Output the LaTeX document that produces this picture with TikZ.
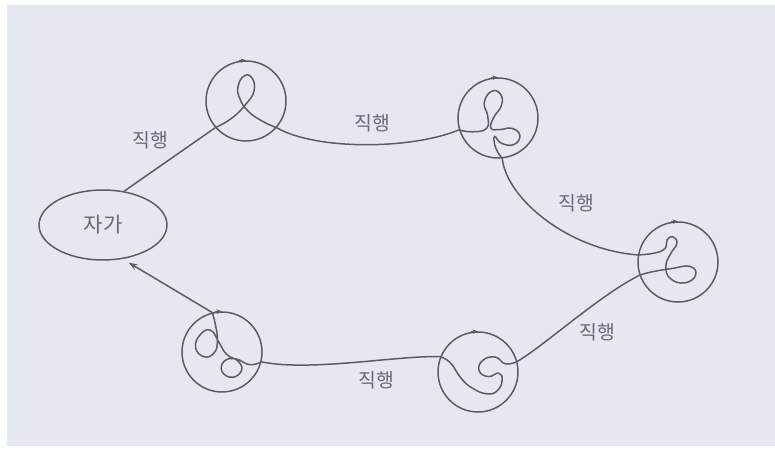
\documentclass[tikz,border=0pt]{standalone}
\usepackage{fontspec}
\newfontfamily\kr{Noto Sans CJK KR}
\usepackage{tikz}
\usetikzlibrary{calc, arrows.meta, shapes.geometric}
\definecolor{paper}{RGB}{229, 231, 241}
\definecolor{ink}{RGB}{92, 92, 104}
\definecolor{txt}{RGB}{105, 105, 118}

\begin{document}
\begin{tikzpicture}[x=0.02cm, y=-0.02cm, >=Stealth,
  spot/.style={circle, draw=ink, line width=0.85pt, minimum size=1.6cm, inner sep=0pt},
  homenode/.style={ellipse, draw=ink, line width=0.85pt, minimum width=2.56cm,
    minimum height=1.4cm, inner sep=0pt, font=\kr\fontsize{12}{14}\selectfont, text=txt},
  route/.style={ink, line width=0.85pt},
  walk/.style={route, smooth, tension=0.8},
  tagl/.style={font=\kr\fontsize{11}{13}\selectfont, text=txt}]
  \fill[white] (0,0) rectangle (775,455);
  \fill[paper] (7,5) rectangle (775,446);
  \useasboundingbox (0,0) rectangle (775,455);

  \node[homenode] (home) at (103,225) {자가};
  \node[spot] (c1) at (246,101) {};
  \node[spot] (c2) at (498,118) {};
  \node[spot] (c3) at (678,262) {};
  \node[spot] (c4) at (478,372) {};
  \node[spot] (c5) at (222,352) {};

  % direction marks
  \foreach \c in {c1,c2,c3,c4,c5}
    \draw[route, -{Stealth[length=3pt, width=2.5pt]}] (\c.100) -- (\c.north);

  % wandering inside each stop
  \begin{scope}[shift={(c1.center)}]
    \draw[walk] plot coordinates {(c1.221) (-14,17) (0,3) (8,-10) (6,-23) (-2,-25)
      (-8,-14) (-6,-2) (2,10) (16,20) (c1.319)};
  \end{scope}
  \begin{scope}[shift={(c2.center)}, scale=1.15]
    \draw[walk] plot coordinates {(c2.197) (-22,12) (-10,9) (-9,-2) (-12,-13) (-6,-23)
      (2,-21) (3,-11) (-4,0) (-6,9) (2,10) (12,9) (19,15) (14,23) (3,22) (-3,16)
      (-2,26) (c2.276)};
  \end{scope}
  \begin{scope}[shift={(c3.center)}, scale=1.1]
    \draw[walk] plot coordinates {(c3.170) (-22,-8) (-12,-12) (-10,-20) (-5,-23) (-1,-17)
      (-7,-7) (-11,4) (-7,15) (6,19) (16,12) (11,4) (-6,6) (-24,9) (c3.199)};
  \end{scope}
  \begin{scope}[shift={(c4.center)}, scale=1.15]
    \draw[walk] plot coordinates {(c4.15) (24,-7) (15,-13) (4,-10) (1,-1) (9,4) (18,1)
      (21,7) (17,16) (8,19) (-5,14) (-15,5) (-24,-8) (c4.158)};
  \end{scope}
  \begin{scope}[shift={(c5.center)}, scale=1.15]
    \draw[walk] plot coordinates {(c5.346) (24,11) (12,6) (2,8) (0,17) (9,22) (17,16)
      (14,8) (4,2) (-3,-9) (-10,-19) (-19,-15) (-23,-4) (-16,4) (-7,1) (-4,-10)
      (-6,-25) (c5.104)};
  \end{scope}

  % trips between stops
  \draw[route] (home.58) -- (c1.221);
  \draw[route] (c1.319) .. controls (315,150) and (410,150) .. (c2.197);
  \draw[route] (c2.276) .. controls (507,200) and (570,250) .. (c3.170);
  \draw[route] (c3.199) .. controls (600,295) and (545,345) .. (c4.15);
  \draw[route] (c4.158) .. controls (400,355) and (310,372) .. (c5.346);
  \draw[route, -{Stealth[length=5pt, width=3.5pt]}, shorten >=4pt] (c5.104) -- (home.-60);

  \node[tagl] (l1) at (150,140) {직행};
  \node[tagl] (l2) at (372,123) {직행};
  \node[tagl] (l3) at (576,203) {직행};
  \node[tagl] (l4) at (597,332) {직행};
  \node[tagl] (l5) at (376,380) {직행};
\end{tikzpicture}
\end{document}
